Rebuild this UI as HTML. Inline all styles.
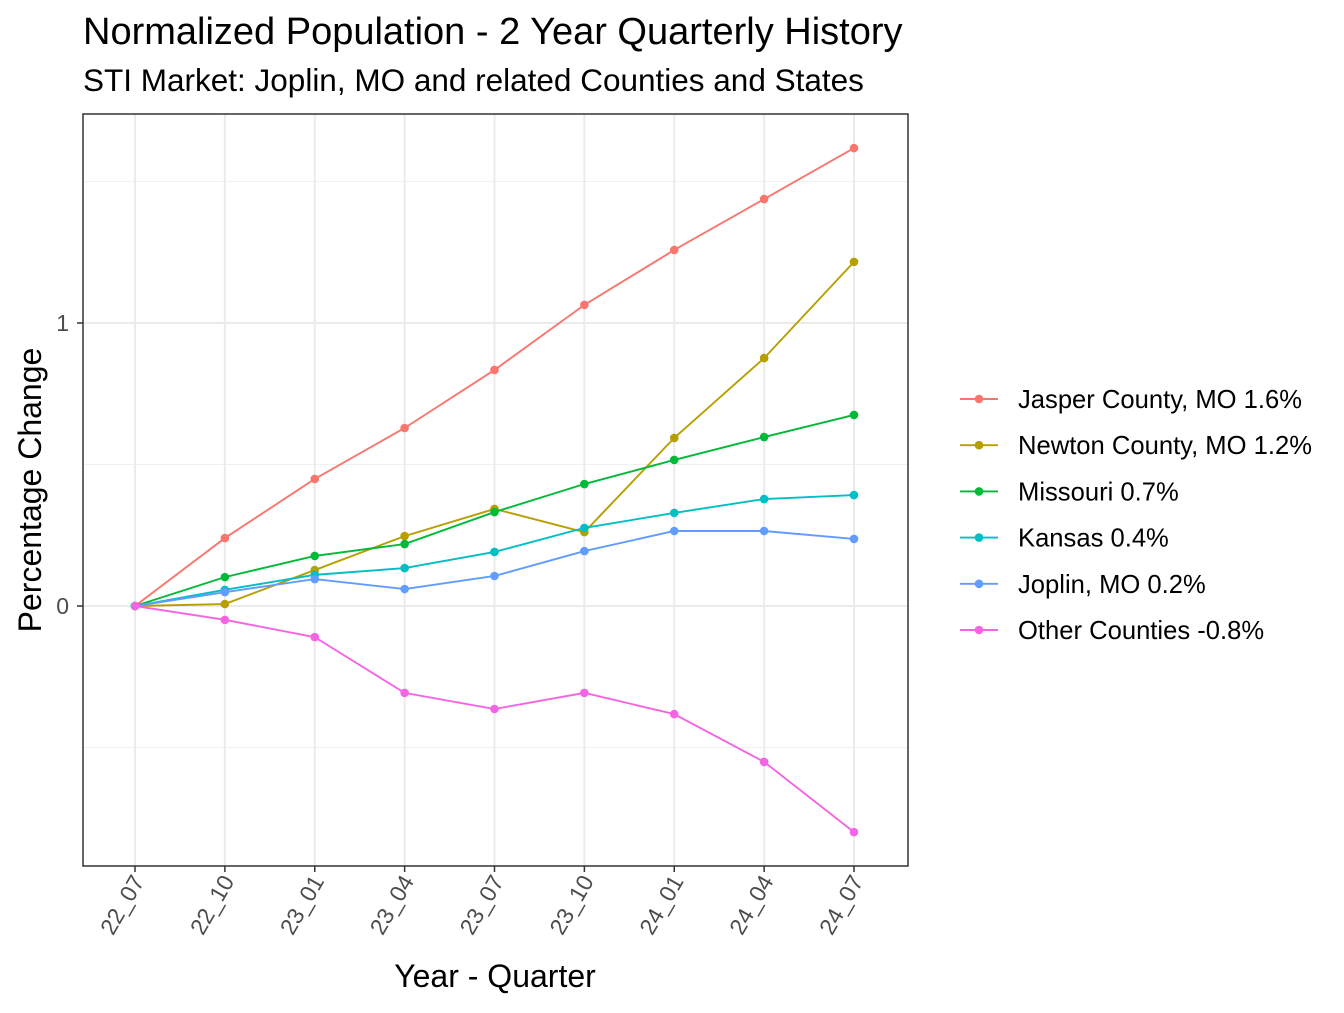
<!DOCTYPE html>
<html><head><meta charset="utf-8"><style>
body{margin:0;background:#fff;}
svg{font-family:"Liberation Sans",Arial,sans-serif;}
</style></head><body>
<svg id="c" width="1344" height="1008">
<text x="83" y="44" font-size="38" fill="#000">Normalized Population - 2 Year Quarterly History</text>
<text x="83" y="91" font-size="31.5" fill="#000">STI Market: Joplin, MO and related Counties and States</text>
<g id="grid"></g>
<g id="plot"></g>
<rect x="83" y="114" width="825" height="752" fill="none" stroke="#333" stroke-width="1.5"/>
<g id="axes"></g>
<text transform="translate(41,490) rotate(-90)" text-anchor="middle" font-size="32">Percentage Change</text>
<text x="495" y="987" text-anchor="middle" font-size="32">Year - Quarter</text>
<g id="legend"></g>
</svg>
<script>
const categories=["22_07","22_10","23_01","23_04","23_07","23_10","24_01","24_04","24_07"];
const seriesNames=["Jasper County, MO 1.6%","Newton County, MO 1.2%","Missouri 0.7%","Kansas 0.4%","Joplin, MO 0.2%","Other Counties -0.8%"];
const colors=["#F8766D","#B79F00","#00BA38","#00BFC4","#619CFF","#F564E3"];
const jasper=[0,0.24,0.449,0.629,0.834,1.064,1.258,1.438,1.618];
const newton=[0,0.007,0.127,0.247,0.343,0.261,0.594,0.876,1.216];
const missouri=[0,0.102,0.177,0.219,0.332,0.431,0.516,0.597,0.675];
const kansas=[0,0.057,0.11,0.134,0.191,0.276,0.329,0.378,0.392];
const joplin=[0,0.049,0.095,0.06,0.106,0.194,0.265,0.265,0.237];
const other=[0,-0.049,-0.11,-0.307,-0.364,-0.307,-0.382,-0.551,-0.799];
const yTicks=[0,1];
const yMinor=[-0.5,0.5,1.5];
const series=[jasper,newton,missouri,kansas,joplin,other];
const NS="http://www.w3.org/2000/svg";
const X=i=>135+i*89.875;
const Y=v=>606-v*283;
function mk(t,a,p){const e=document.createElementNS(NS,t);for(const k in a)e.setAttribute(k,a[k]);p.appendChild(e);return e;}
const grid=document.getElementById('grid'),plot=document.getElementById('plot'),axes=document.getElementById('axes'),leg=document.getElementById('legend');
yMinor.forEach(v=>{const l=mk('line',{x1:83,x2:908,y1:Y(v),y2:Y(v),stroke:'#f0f0f0','stroke-width':1},grid);

});
yTicks.forEach(v=>{const l=mk('line',{x1:83,x2:908,y1:Y(v),y2:Y(v),stroke:'#ebebeb','stroke-width':2},grid);


const t=mk('line',{x1:77,x2:83,y1:Y(v),y2:Y(v),stroke:'#333','stroke-width':1.5},axes);


const tx=mk('text',{x:69,y:Y(v)+8,'text-anchor':'end','font-size':23,fill:'#4d4d4d'},axes);tx.textContent=v;

});
categories.forEach((c,i)=>{const l=mk('line',{x1:X(i),x2:X(i),y1:114,y2:866,stroke:'#ebebeb','stroke-width':2},grid);


const t=mk('line',{x1:X(i),x2:X(i),y1:866,y2:872,stroke:'#333','stroke-width':1.5},axes);


const tx=mk('text',{transform:`translate(${X(i)+10},${881}) rotate(-60)`,'text-anchor':'end','font-size':23,fill:'#4d4d4d'},axes);tx.textContent=c;

});
series.forEach((s,k)=>{const g=mk('g',{},plot);


const p=mk('polyline',{points:s.map((v,i)=>X(i)+','+Y(v)).join(' '),fill:'none',stroke:colors[k],'stroke-width':1.9},g);


s.forEach((v,i)=>{const c=mk('circle',{cx:X(i),cy:Y(v),r:4.3,fill:colors[k]},g);

});
const ly=399+k*46.2;
const le=mk('g',{},leg);


mk('line',{x1:960,x2:998,y1:ly,y2:ly,stroke:colors[k],'stroke-width':1.9},le);
mk('circle',{cx:979,cy:ly,r:4.3,fill:colors[k]},le);
const t=mk('text',{x:1018,y:ly+9,'font-size':25.6},le);t.textContent=seriesNames[k];});
</script>
</body></html>
